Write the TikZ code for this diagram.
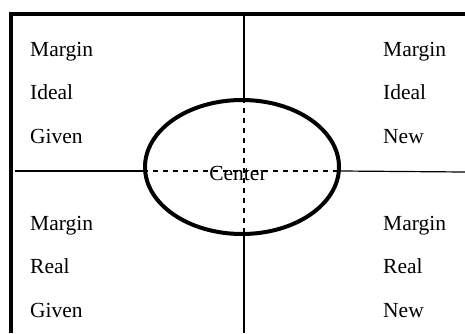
\documentclass[tikz,border=0pt]{standalone}
\usepackage{fontspec}
\setmainfont{Liberation Serif}
\usetikzlibrary{shapes.geometric}
\begin{document}
\begin{tikzpicture}[x=1pt,y=-1pt,
  label/.style={anchor=base west,inner sep=0pt,font=\fontsize{21.5}{25}\selectfont},
  thin line/.style={line width=1.2pt},
  guide/.style={line width=1.2pt,dash pattern=on 5pt off 5pt},
  frame/.style={line width=4pt}]
  \useasboundingbox (0,0) rectangle (465,333);
  % outer frame: top and left edges only
  \coordinate (tl) at (10.5,13.5);
  \coordinate (tr) at (465,13.5);
  \coordinate (bl) at (10.5,333);
  \draw[frame] (tr) -- (tl) -- (bl);
  % central ellipse
  \node[draw,line width=4pt,ellipse,minimum width=194pt,minimum height=134pt,inner sep=0pt] (c) at (242,167) {};
  \coordinate (vtop) at (244,15.5);
  \coordinate (vbot) at (244,333);
  \coordinate (hleft) at (15,171);
  \coordinate (hright) at (465,172);
  \coordinate (cw) at (c.west |- hleft);
  \coordinate (ce) at (c.east |- hleft);
  \coordinate (cn) at (vtop |- c.north);
  \coordinate (cs) at (vtop |- c.south);
  % quadrant dividers
  \draw[thin line] (vtop) -- (cn);
  \draw[thin line] (cs) -- (vbot);
  \draw[thin line] (hleft) -- (cw);
  \draw[thin line] (ce) -- (hright);
  \draw[guide] (cw) -- (ce);
  \draw[guide] (cn) -- (cs);
  \node[inner sep=0pt,font=\fontsize{21.5}{25}\selectfont,anchor=base] (center) at (238,180) {Center};
  % quadrant labels
  \node[label] (tl1) at (30,56) {Margin};
  \node[label] (tl2) at (30,99.5) {Ideal};
  \node[label] (tl3) at (30,143) {Given};
  \node[label] (tr1) at (383,56) {Margin};
  \node[label] (tr2) at (383,99.5) {Ideal};
  \node[label] (tr3) at (383,143) {New};
  \node[label] (bl1) at (30,230) {Margin};
  \node[label] (bl2) at (30,273.5) {Real};
  \node[label] (bl3) at (30,317) {Given};
  \node[label] (br1) at (383,230) {Margin};
  \node[label] (br2) at (383,273.5) {Real};
  \node[label] (br3) at (383,317) {New};
\end{tikzpicture}
\end{document}
